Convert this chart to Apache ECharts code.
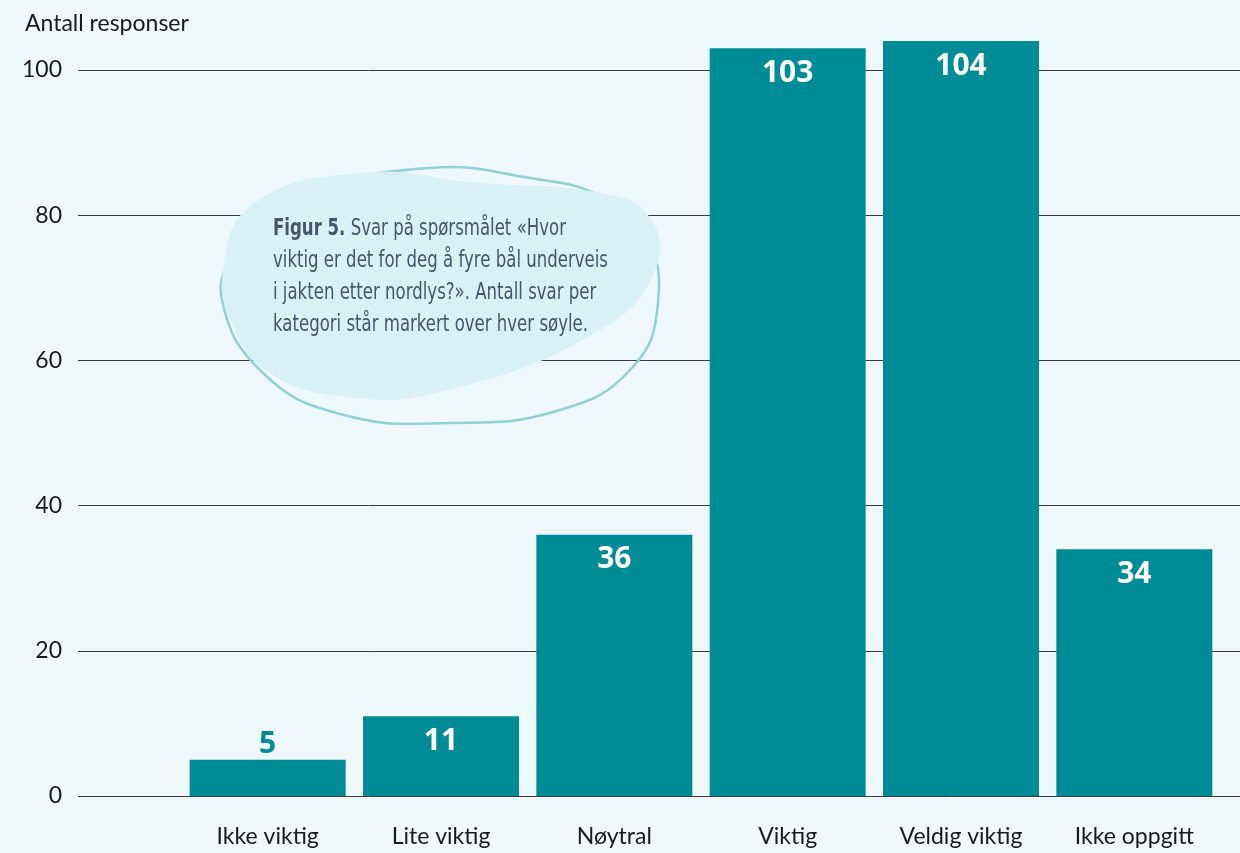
<!DOCTYPE html>
<html>
<head>
<meta charset="utf-8">
<script src="https://cdn.jsdelivr.net/npm/echarts@6/dist/echarts.min.js"></script>
<style>
html,body{margin:0;padding:0;background:#eff8fa;}
#c{width:1240px;height:853px;}
</style>
</head>
<body>
<div id="c"></div>
<script>
const categories = ['Ikke viktig', 'Lite viktig', 'Nøytral', 'Viktig', 'Veldig viktig', 'Ikke oppgitt'];
const values = [5, 11, 36, 103, 104, 34];
const yTicks = [0, 20, 40, 60, 80, 100];
const yTitle = 'Antall responser';
const noteBold = 'Figur 5.';
const noteLines = [
  ' Svar på spørsmålet «Hvor',
  'viktig er det for deg å fyre bål underveis',
  'i jakten etter nordlys?». Antall svar per',
  'kategori står markert over hver søyle.'
];

const teal = '#008c96';
const chart = echarts.init(document.getElementById('c'), null, {renderer: 'canvas'});

const barData = values.map(v => {
  const small = v < 8;
  return {
    value: v,
    label: small
      ? {position: 'top', distance: 0, color: teal}
      : {position: 'insideTop', distance: 10, color: '#ffffff'}
  };
});

const noteFont = '"DejaVu Sans", sans-serif';

const option = {
  backgroundColor: '#eff8fa',
  animation: false,
  grid: [
    {left: 78, right: 0, top: 70, bottom: 57},
    {left: 181, right: 19, top: 70, bottom: 57}
  ],
  xAxis: [
    {gridIndex: 0, type: 'category', data: [''], show: false},
    {
      gridIndex: 1, type: 'category', data: categories,
      axisLine: {show: false}, axisTick: {show: false},
      axisLabel: {margin: 29, fontSize: 23, color: '#1a1a1a', fontFamily: 'Lato, "Noto Sans", sans-serif', interval: 0}
    }
  ],
  yAxis: [
    {
      gridIndex: 0, type: 'value', min: yTicks[0], max: yTicks[yTicks.length - 1], interval: 20,
      axisLine: {show: false}, axisTick: {show: false},
      axisLabel: {margin: 16, fontSize: 23, color: '#1a1a1a', fontFamily: 'Lato, "Noto Sans", sans-serif'},
      splitLine: {lineStyle: {color: '#3c3c3c', width: 1}}
    },
    {
      gridIndex: 1, type: 'value', min: yTicks[0], max: yTicks[yTicks.length - 1], interval: 20,
      show: false, splitLine: {show: false}
    }
  ],
  series: [{
    type: 'bar',
    xAxisIndex: 1, yAxisIndex: 1,
    barWidth: 156,
    clip: false,
    itemStyle: {color: teal},
    label: {show: true, fontSize: 30, fontWeight: 'bold', fontFamily: '"Open Sans", "Noto Sans", sans-serif'},
    data: barData
  }],
  graphic: [
    {
      type: 'text', left: 25, top: 12, z: 10,
      style: {text: yTitle, fontSize: 23, fill: '#1a1a1a', fontFamily: 'Lato, "Noto Sans", sans-serif'}
    },
    {
      type: 'polygon', z: 5,
      shape: {
        points: [[222,300],[236,255],[310,195],[430,168],[530,178],[600,196],[645,235],[658,303],[632,368],[560,410],[450,423],[340,414],[262,372]],
        smooth: 0.45
      },
      style: {fill: 'none', stroke: '#8fd1d6', lineWidth: 2.5}
    },
    {
      type: 'polygon', z: 6,
      shape: {
        points: [[223,272],[252,205],[360,173],[480,183],[600,193],[648,215],[656,268],[600,330],[440,392],[340,396],[268,372],[234,328]],
        smooth: 0.45
      },
      style: {fill: '#d8f1f5', stroke: 'none'}
    },
    {
      type: 'text', x: 273, y: 213, z: 7, scaleX: 0.72, scaleY: 1,
      style: {
        text: '{b|' + noteBold + '}{r|' + noteLines[0] + '}\n{r|' + noteLines.slice(1).join('}\n{r|') + '}',
        rich: {
          b: {fontSize: 23, fontWeight: 'bold', fill: '#44576a', fontFamily: noteFont, lineHeight: 32},
          r: {fontSize: 23, fill: '#44576a', fontFamily: noteFont, lineHeight: 32}
        }
      }
    }
  ]
};
chart.setOption(option);
</script>
</body>
</html>
